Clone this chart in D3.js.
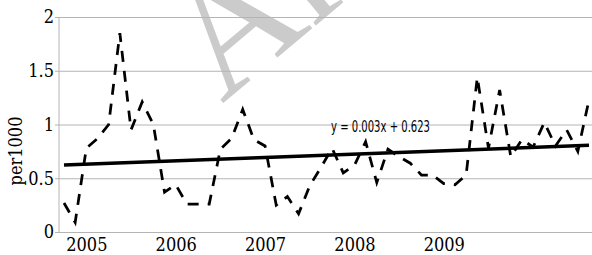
<!DOCTYPE html>
<html>
<head>
<meta charset="utf-8">
<script src="https://cdn.jsdelivr.net/npm/d3@7"></script>
<style>
  body { margin: 0; background: #fff; }
  svg { display: block; }
  .tickText { font-family: "DejaVu Serif Condensed", "DejaVu Serif", serif; font-size: 18px; fill: #000; }
  .eqText { font-family: "Liberation Sans Narrow", "DejaVu Sans Condensed", sans-serif; font-size: 15px; fill: #000; }
</style>
</head>
<body>
<div id="chart"></div>
<script>
  // values, one per sample
  const rates = [
    0.27, 0.09, 0.78, 0.87, 1.0, 1.85, 0.95, 1.21, 1.0, 0.37, 0.44, 0.26,
    0.26, 0.26, 0.77, 0.87, 1.14, 0.86, 0.8, 0.25, 0.33, 0.17, 0.43, 0.6,
    0.78, 0.55, 0.62, 0.84, 0.46, 0.77, 0.7, 0.64, 0.53, 0.53, 0.45, 0.44,
    0.53, 1.44, 0.78, 1.32, 0.7, 0.86, 0.79, 1.02, 0.8, 0.95, 0.75, 1.23
  ];
  const yearLabels = ["2005", "2006", "2007", "2008", "2009"];
  const yearIndex = [2, 10, 18, 26, 34];
  const yTicks = [0, 0.5, 1, 1.5, 2];
  const equation = "y = 0.003x + 0.623";

  const svgWidth = 592, svgHeight = 255;
  const margin = { top: 17, left: 59, right: 0, bottom: 23 };
  const height = svgHeight - margin.top - margin.bottom;

  const svg = d3.select("#chart").append("svg")
    .attr("width", svgWidth)
    .attr("height", svgHeight);

  // faint watermark behind the plot
  svg.append("text")
    .attr("transform", "translate(222,104) rotate(-40)")
    .style("font-family", "Liberation Serif, serif")
    .style("font-size", "165px")
    .style("fill", "#cbcbcb")
    .text("Ar");

  const x = d3.scaleLinear().domain([0, rates.length - 1]).range([64, 589]);
  const y = d3.scaleLinear().domain([0, 2]).range([margin.top + height, margin.top]);

  // gridlines + left ticks
  const yAxis = d3.axisLeft(y).tickValues(yTicks)
    .tickSize(-(svgWidth - margin.left))
    .tickFormat(d3.format("~g"))
    .tickPadding(5);
  const gy = svg.append("g")
    .attr("transform", "translate(" + margin.left + ",0)")
    .call(yAxis);
  gy.select(".domain").remove();
  gy.selectAll(".tick line").attr("stroke", "#b4b4b4").attr("x1", -4);
  gy.selectAll(".tick text").attr("class", "tickText").attr("x", -5);

  svg.append("line")
    .attr("x1", margin.left).attr("x2", margin.left)
    .attr("y1", y(2)).attr("y2", y(0))
    .attr("stroke", "#b4b4b4");

  // year labels
  const xAxis = d3.axisBottom(x).tickValues(yearIndex)
    .tickFormat((d, i) => yearLabels[i]).tickSize(0).tickPadding(6);
  const gx = svg.append("g")
    .attr("transform", "translate(0," + y(0) + ")")
    .call(xAxis);
  gx.select(".domain").remove();
  gx.selectAll(".tick text").attr("class", "tickText");

  // axis title
  svg.append("text")
    .attr("class", "tickText")
    .attr("transform", "translate(22," + 151 + ") rotate(-90)")
    .style("text-anchor", "middle")
    .text("per1000");

  // data line
  const line = d3.line().x((d, i) => x(i)).y((d) => y(d));
  svg.append("path")
    .datum(rates)
    .attr("fill", "none")
    .attr("stroke", "#000")
    .attr("stroke-width", 2.75)
    .attr("stroke-dasharray", "11,9")
    .attr("d", line);

  // least squares trend
  const n = rates.length;
  const mx = d3.mean(rates, (d, i) => i);
  const my = d3.mean(rates);
  const slope = d3.sum(rates, (d, i) => (i - mx) * (d - my)) /
    d3.sum(rates, (d, i) => (i - mx) * (i - mx));
  const icpt = my - slope * mx;
  svg.append("line")
    .attr("x1", x(0)).attr("y1", y(icpt))
    .attr("x2", x(n - 1)).attr("y2", y(icpt + slope * (n - 1)))
    .attr("stroke", "#000")
    .attr("stroke-width", 3.5);

  svg.append("text")
    .attr("class", "eqText")
    .attr("x", 331).attr("y", 132)
    .attr("textLength", 99)
    .attr("lengthAdjust", "spacingAndGlyphs")
    .text(equation);
</script>
</body>
</html>
